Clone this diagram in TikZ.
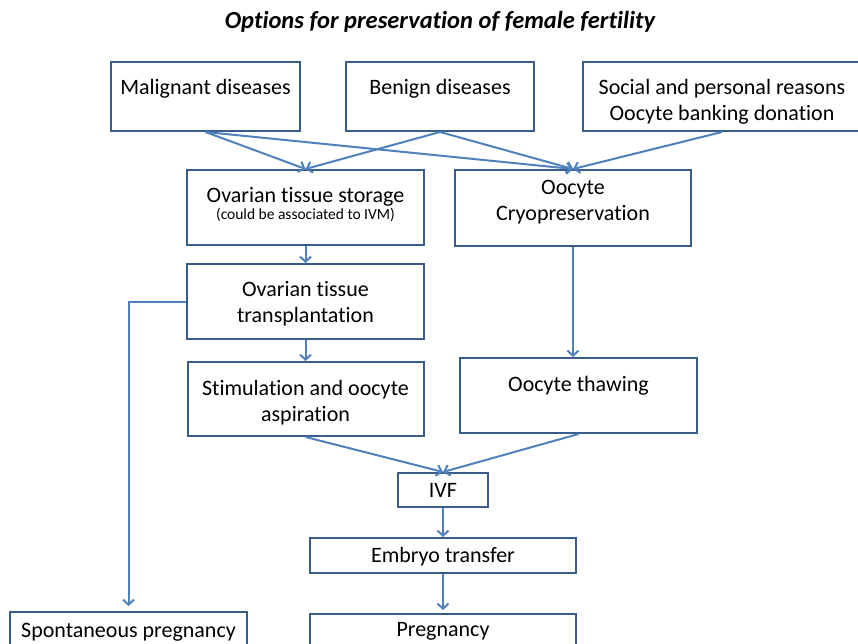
\documentclass[tikz,border=0pt]{standalone}
\usepackage{fontspec}
\setmainfont{Carlito}[RawFeature={-liga;-clig;-calt;-dlig}]
\usepackage{xcolor}
\usetikzlibrary{positioning, arrows.meta}
\definecolor{boxblue}{HTML}{385D8A}
\definecolor{arrblue}{HTML}{4F81BD}

\begin{document}
\begin{tikzpicture}[x=1pt, y=-1pt, node distance=20pt,
		block/.style={draw=boxblue, line width=2pt, inner sep=0pt, align=flush center, font=\fontsize{22}{26}\selectfont},
		bsize/.style n args={3}{text width=#1pt, text height=#2pt, text depth=#3pt},
		arr/.style={draw=arrblue, line width=2pt, -{Straight Barb[length=5pt,width=11pt]}}]
			\fill[white] (0,0) rectangle (858,644);
			\useasboundingbox (0,0) rectangle (858,644);
			
			\node[font=\fontsize{24.5}{28}\selectfont\bfseries\itshape] (title) at (440,22) {Options for preservation of female fertility};
			
			\node[block, bsize={189}{32.5}{36.5}] (mal) at (205.5,96.5) {Malignant diseases};
			\node[block, bsize={188}{32.5}{36.5}] (ben) at (440,96.5) {Benign diseases};
			\node[block, bsize={278}{32.5}{36.5}] (soc) at (722,96.5) {Social and personal reasons\\Oocyte banking donation};
			\node[block, bsize={237}{32.5}{42.5}] (store) at (305.5,207.5) {Ovarian tissue storage\\[-9pt]{\fontsize{15.5}{17}\selectfont (could be associated to IVM)}};
			\node[block, bsize={236}{24.5}{51.5}] (cryo) at (573,208) {Oocyte\\Cryopreservation};
			\node[block, bsize={237}{32.5}{42.5}, below = 17pt of store] (trans) {Ovarian tissue\\transplantation};
			\node[block, bsize={236}{33.5}{40.5}, below = 21pt of trans] (stim) {Stimulation and oocyte\\aspiration};
			\node[block, bsize={237}{33.5}{41.5}] (thaw) at (578.5,395.5) {Oocyte thawing};
			\node[block, bsize={90}{24.5}{9.5}] (ivf) at (443,490) {IVF};
			\node[block, bsize={266}{24.5}{10.5}, below = 29pt of ivf] (emb) {Embryo transfer};
			\node[block, bsize={266}{22.5}{17.5}, below = 39pt of emb] (preg) {Pregnancy};
			\node[block, bsize={237}{25.5}{14.5}] (spon) at (128.5,632) {Spontaneous pregnancy};
			
			\draw (mal.south) edge[arr] (store.north) ;
			\draw (mal.south) edge[arr] (cryo.north) ;
			\draw (ben.south) edge[arr] (store.north) ;
			\draw (ben.south) edge[arr] (cryo.north) ;
			\draw (soc.south) edge[arr] (cryo.north) ;
			\draw (store.south) edge[arr] (trans.north) ;
			\draw (trans.south) edge[arr] (stim.north) ;
			\draw (cryo.south) edge[arr] (cryo.south |- thaw.north) ;
			\draw (stim.south) edge[arr] (ivf.north) ;
			\draw (thaw.south) edge[arr] (ivf.north) ;
			\draw (ivf.south) edge[arr] (emb.north) ;
			\draw (emb.south) edge[arr, shorten >=3pt] (preg.north) ;
			\draw[arr, shorten >=5pt] (trans.west) -| (spon.north) ;
			
		\end{tikzpicture}
\end{document}
